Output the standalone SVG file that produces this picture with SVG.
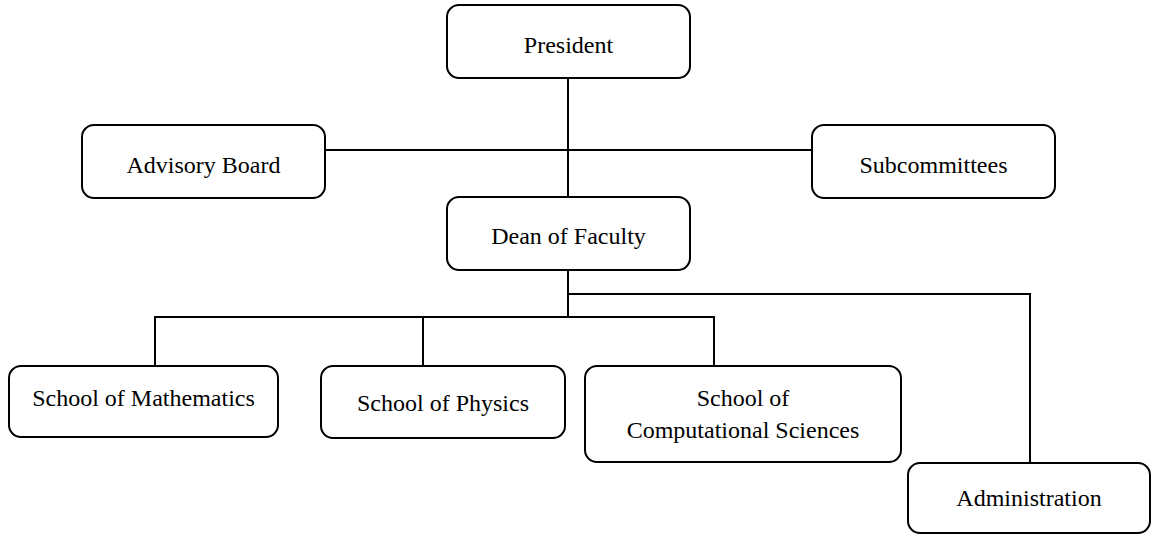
<svg xmlns="http://www.w3.org/2000/svg" width="1155" height="534" viewBox="0 0 1155 534">
  <style>
    .box { fill: #ffffff; stroke: #000000; stroke-width: 2; }
    .lbl { font-family: "Liberation Serif", "Times New Roman", serif; font-size: 24px; fill: #000000; text-anchor: middle; }
    .conn { fill: none; stroke: #000000; stroke-width: 2; }
  </style>
  <rect width="1155" height="534" fill="#ffffff"/>
  <g id="connectors">
    <line class="conn" x1="568" y1="78" x2="568" y2="197"/>
    <line class="conn" x1="325" y1="150" x2="812" y2="150"/>
    <line class="conn" x1="568" y1="270" x2="568" y2="317"/>
    <polyline class="conn" points="155,366 155,317 714,317 714,366"/>
    <line class="conn" x1="423" y1="317" x2="423" y2="366"/>
    <polyline class="conn" points="568,294 1030,294 1030,463"/>
  </g>
  <g id="president">
    <rect class="box" x="447" y="5" width="243" height="73" rx="12"/>
    <text class="lbl" x="568.5" y="53">President</text>
  </g>
  <g id="advisory-board">
    <rect class="box" x="82" y="125" width="243" height="73" rx="12"/>
    <text class="lbl" x="203.5" y="173">Advisory Board</text>
  </g>
  <g id="subcommittees">
    <rect class="box" x="812" y="125" width="243" height="73" rx="12"/>
    <text class="lbl" x="933.5" y="173">Subcommittees</text>
  </g>
  <g id="dean">
    <rect class="box" x="447" y="197" width="243" height="73" rx="12"/>
    <text class="lbl" x="568.5" y="244">Dean of Faculty</text>
  </g>
  <g id="school-math">
    <rect class="box" x="9" y="366" width="269" height="71" rx="12"/>
    <text class="lbl" x="143.5" y="406">School of Mathematics</text>
  </g>
  <g id="school-physics">
    <rect class="box" x="321" y="366" width="244" height="72" rx="12"/>
    <text class="lbl" x="443" y="411">School of Physics</text>
  </g>
  <g id="school-comp">
    <rect class="box" x="585" y="366" width="316" height="96" rx="12"/>
    <text class="lbl" x="743" y="406">School of</text>
    <text class="lbl" x="743" y="438">Computational Sciences</text>
  </g>
  <g id="administration">
    <rect class="box" x="908" y="463" width="242" height="70" rx="12"/>
    <text class="lbl" x="1029" y="506">Administration</text>
  </g>
</svg>
